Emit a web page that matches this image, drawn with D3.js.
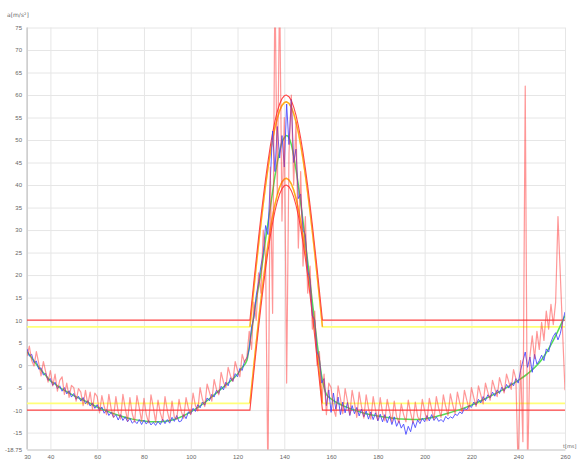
<!DOCTYPE html>
<html>
<head>
<meta charset="utf-8">
<script src="https://cdn.jsdelivr.net/npm/d3@7"></script>
<style>
  html, body { margin: 0; padding: 0; background: #fff; }
  svg { display: block; font-family: "DejaVu Sans", "Liberation Sans", sans-serif; }
</style>
</head>
<body>
<svg id="chart" width="577" height="459"></svg>
<script>
// ---- Shock record: acceleration a [m/s²] over time t [ms] ----

// sampling of the recorded signals
const tStart = 30, tEnd = 260, sampleStep = 1;
const sampleTimes = d3.range(tStart, tEnd + sampleStep / 2, sampleStep);

// raw accelerometer trace (one value per ms, 30..260)
const rawSignal = [
  2.0, 4.2, 1.0, -0.2, 3.0, 0.5, -2.4, 0.8, -1.5, -3.8,
  -1.2, -4.6, -2.0, -5.8, -3.4, -2.6, -6.5, -4.0, -7.2, -4.5,
  -5.0, -8.0, -5.2, -6.0, -9.0, -5.6, -8.8, -6.0, -9.8, -6.2,
  -7.0, -10.6, -6.8, -9.2, -11.0, -6.5, -9.8, -11.6, -7.0, -10.4,
  -12.0, -6.5, -9.6, -12.4, -7.2, -10.8, -12.6, -6.8, -9.5, -12.5,
  -7.4, -11.0, -12.8, -6.6, -9.4, -12.7, -7.8, -10.6, -12.4, -7.0,
  -10.2, -12.5, -8.0, -11.6, -12.0, -7.6, -10.4, -11.8, -7.2, -9.6,
  -11.0, -6.2, -9.0, -10.2, -5.0, -7.6, -9.2, -4.2, -6.0, -8.0,
  -3.2, -5.4, -6.6, -1.6, -3.8, -5.0, -0.5, -2.4, -3.6, 0.8,
  -1.2, -2.6, 2.4, 0.6, 1.8, 7.5, 3.5, 14.0, 10.0, 20.5,
  16.0, 30.0, 24.0, -26.0, 44.0, 11.5, 86.0, 38.0, 84.0, 32.0,
  55.0, -4.0, 47.0, 60.0, 40.0, 54.0, 26.0, 43.0, 22.0, 33.0,
  16.0, 22.0, 8.0, 12.0, 0.0, 3.0, -8.0, -2.0, -11.0, -4.0,
  -5.0, -9.6, -11.4, -4.6, -7.4, -10.8, -5.2, -8.0, -11.0, -5.6,
  -8.4, -11.6, -6.0, -9.2, -11.8, -6.6, -9.6, -12.0, -7.0, -10.0,
  -12.2, -7.2, -10.6, -12.4, -7.6, -10.2, -12.6, -8.0, -11.4, -12.8,
  -8.6, -11.0, -12.6, -7.8, -10.6, -12.8, -8.2, -11.4, -12.4, -7.6,
  -10.2, -12.4, -7.4, -9.8, -12.0, -7.0, -9.6, -11.6, -6.6, -9.2,
  -11.2, -6.4, -8.8, -10.8, -6.0, -8.4, -10.4, -5.6, -7.8, -9.8,
  -5.0, -7.2, -9.2, -4.6, -6.6, -8.6, -4.0, -6.0, -7.8, -3.4,
  -5.2, -7.0, -2.8, -4.6, -6.2, -2.0, -3.8, -5.4, -1.0, -3.0,
  -24.0, 1.0, -17.0, 62.0, -24.0, 2.0, 6.5, 1.5, 7.5, 3.5,
  9.5, 5.5, 12.0, 8.0, 13.5, 9.0, 14.0, 33.0, 20.0, 7.0, -5.6
];

// low-pass filtered trace (one value per ms, 30..260)
const filteredSignal = [
  3.6, 2.0, 2.4, 0.5, 0.9, -0.9, -0.6, -2.2, -1.8, -3.4,
  -3.0, -4.5, -3.8, -5.2, -4.6, -5.8, -5.0, -6.4, -5.7, -7.1,
  -6.3, -7.6, -6.9, -8.0, -7.2, -8.6, -7.9, -9.1, -8.4, -9.6,
  -8.8, -10.1, -9.3, -10.7, -9.9, -11.2, -10.5, -11.6, -11.0, -12.2,
  -11.0, -12.3, -11.5, -12.6, -11.8, -12.9, -12.4, -13.0, -12.1, -13.2,
  -12.2, -13.1, -12.3, -13.3, -12.7, -13.4, -12.5, -13.2, -12.0, -13.0,
  -12.1, -12.9, -11.6, -12.5, -11.2, -12.6, -12.4, -11.0, -11.9, -10.4,
  -10.9, -9.6, -10.3, -8.8, -9.5, -8.2, -8.9, -7.3, -7.9, -6.5,
  -7.1, -5.6, -6.3, -4.7, -5.5, -3.8, -4.6, -2.8, -3.6, -1.9,
  -2.6, -0.7, -1.2, 0.9, 1.5, 3.5, 8.5, 10.5, 15.5, 18.5,
  22, 25, 31, 29, 41, 52, 43, 53, 46, 51,
  44, 58, 49, 59, 45, 48, 37, 38, 30, 29,
  21, 19, 11, 10, 3, 1.5, -4, -3, -9, -5.5,
  -10.5, -6.2, -9.8, -7.1, -11.0, -8.2, -10.6, -8.3, -11.2, -9.0,
  -10.8, -9.4, -11.3, -9.8, -11.5, -10.2, -12.0, -10.4, -12.1, -10.6,
  -12.4, -10.9, -12.6, -11.0, -12.8, -11.3, -13.2, -11.5, -13.6, -12.4,
  -14.0, -13.1, -15.4, -13.6, -14.8, -12.5, -13.9, -12.2, -13.0, -11.8,
  -12.6, -11.2, -12.4, -11.0, -12.3, -11.5, -12.5, -12.1, -12.6, -11.4,
  -12.0, -11.5, -11.8, -10.9, -11.2, -10.4, -10.8, -9.6, -9.9, -9.0,
  -9.4, -8.2, -8.9, -7.6, -8.4, -7.0, -7.9, -6.6, -7.3, -6.0,
  -6.9, -5.5, -6.3, -4.9, -5.8, -4.3, -5.1, -3.9, -4.6, -3.0,
  -4.0, -1.2, 0.9, 2.9, -0.5, 1.8, -1.6, 2.4, 0.2, 1.0,
  2.2, 1.0, 3.6, 2.9, 5.1, 6.4, 7.2, 5.6, 7.0, 9.6, 11.8
];

// smoothed trend
const smoothTimes = [
  30, 32, 34, 36, 38, 40, 42, 44, 46, 48, 50, 55, 60, 65, 70, 75, 80, 85, 90, 95,
  100, 105, 110, 115, 120, 122, 124,
  125, 126, 127, 128, 129, 130, 131, 132, 133, 134, 135, 136, 137, 138, 139, 140, 141,
  142, 143, 144, 145, 146, 147, 148, 149, 150, 151, 152, 153, 154, 155, 156, 157, 158,
  160, 165, 170, 175, 180, 185, 190, 195, 200, 205, 210, 215, 220, 225, 230, 235, 240,
  245, 250, 255, 260
];
const smoothSignal = [
  3.0, 1.6, 0.2, -1.1, -2.3, -3.5, -4.2, -5.0, -5.6, -6.2, -6.8, -8.0, -9.3, -10.4, -11.3, -12.0, -12.4, -12.6, -12.4, -11.7,
  -10.4, -8.7, -6.6, -4.4, -2.0, -0.5, 1.0,
  4, 7.5, 11, 14.5, 17.5, 20.5, 24, 28, 31.5, 35, 38.5, 42, 45, 47.5, 49.5, 50.5, 51,
  50.5, 49, 46.5, 43.5, 40, 36, 32, 27.5, 23, 18.5, 14, 9.5, 5, 1, -2.5, -5, -6.5,
  -7.5, -9.0, -10.0, -10.8, -11.3, -11.7, -12.0, -12.1, -11.9, -11.4, -10.7, -9.9, -8.9, -7.7, -6.4, -5.0, -3.4,
  -1.5, 1.2, 5.5, 11.0
];

// nominal half-sine pulse (peak 50 m/s², 31 ms)
const pulseTimes = [
  30, 125.3, 126, 127, 128, 129, 130, 131, 132, 133, 134, 135, 136, 137, 138, 139, 140, 140.8,
  141, 142, 143, 144, 145, 146, 147, 148, 149, 150, 151, 152, 153, 154, 155, 156, 156.3, 260
];
const pulseNominal = [
  0, 0, 3.54, 8.57, 13.51, 18.31, 22.93, 27.30, 31.40, 35.18, 38.59, 41.61, 44.22, 46.34, 48.01, 49.18, 49.83, 50,
  49.96, 49.63, 48.76, 47.38, 45.54, 43.22, 40.45, 37.27, 33.70, 29.80, 25.59, 21.11, 16.41, 11.55, 6.57, 1.52, 0, 0
];
const toleranceBand = 10;   // ±0.2 A
const warningBand = 8.5;

// axes
const yTicks = [75, 70, 65, 60, 55, 50, 45, 40, 35, 30, 25, 20, 15, 10, 5, 0, -5, -10, -15, -18.75];
const xTicks = [30, 40, 60, 80, 100, 120, 140, 160, 180, 200, 220, 240, 260];

// ---- layout ----
const svg = d3.select("#chart");
const plotLeft = 27, plotRight = 565, plotTop = 27.5, plotBottom = 449.5;
const x = d3.scaleLinear().domain([30, 260]).range([plotLeft, plotRight]);
const y = d3.scaleLinear().domain([-18.75, 75]).range([plotBottom, plotTop]);

svg.append("defs").append("clipPath").attr("id", "plot-clip")
  .append("rect").attr("x", plotLeft).attr("y", plotTop)
  .attr("width", plotRight - plotLeft).attr("height", plotBottom - plotTop);

// horizontal grid + y labels
const yAxis = svg.append("g").attr("transform", `translate(${plotLeft},0)`)
  .call(d3.axisLeft(y).tickValues(yTicks).tickSize(-(plotRight - plotLeft)).tickPadding(5)
    .tickFormat(d => String(d)));
yAxis.selectAll(".tick line").attr("stroke", d => d === 0 ? "#d4d4d4" : "#e6e6e6");
yAxis.select(".domain").remove();
yAxis.selectAll("text").attr("fill", "#666").attr("font-size", 6);

// vertical grid + x labels
const xAxis = svg.append("g").attr("transform", `translate(0,${plotBottom})`)
  .call(d3.axisBottom(x).tickValues(xTicks).tickSizeInner(-(plotBottom - plotTop)).tickSizeOuter(0)
    .tickPadding(5).tickFormat(d => String(d)));
xAxis.selectAll(".tick line").attr("stroke", "#e6e6e6");
xAxis.select(".domain").attr("stroke", "#cccccc");
xAxis.selectAll("text").attr("fill", "#666").attr("font-size", 6);

// left axis line
svg.append("line").attr("x1", plotLeft).attr("x2", plotLeft).attr("y1", plotTop).attr("y2", plotBottom)
  .attr("stroke", "#b8b8b8");

// axis titles
svg.append("text").attr("x", 7).attr("y", 17).attr("font-size", 6).attr("fill", "#666")
  .text("a[m/s²]");
svg.append("text").attr("x", 563).attr("y", 448).attr("font-size", 5).attr("fill", "#666")
  .text("t[ms]");

// ---- tolerance envelopes ----
const plot = svg.append("g").attr("clip-path", "url(#plot-clip)");
const pulsePts = pulseTimes.map((t, i) => ({ t, v: pulseNominal[i] }));
const inPulse = pulsePts.filter(p => p.t >= 125.3 && p.t <= 156.3);
const lineTV = d3.line().x(p => x(p.t)).y(p => y(p.v));

[warningBand, -warningBand].forEach(off => {
  plot.append("path")
    .attr("d", lineTV(pulsePts.map(p => ({ t: p.t, v: p.v + off }))))
    .attr("fill", "none").attr("stroke", "#ffff78").attr("stroke-width", 1.6);
  plot.append("path")
    .attr("d", lineTV(inPulse.map(p => ({ t: p.t, v: p.v + off }))))
    .attr("fill", "none").attr("stroke", "#ffa524").attr("stroke-width", 1.4);
});
[toleranceBand, -toleranceBand].forEach(off => {
  plot.append("path")
    .attr("d", lineTV(pulsePts.map(p => ({ t: p.t, v: p.v + off }))))
    .attr("fill", "none").attr("stroke", "#ff4646").attr("stroke-width", 1.1);
});

// ---- recorded signals ----
const sampleLine = d3.line().x((d, i) => x(sampleTimes[i])).y(d => y(d));

plot.append("path").datum(smoothSignal)
  .attr("d", d3.line().curve(d3.curveMonotoneX)
    .x((d, i) => x(smoothTimes[i])).y(d => y(d)))
  .attr("fill", "none").attr("stroke", "#55dd55").attr("stroke-width", 1.5);

plot.append("path").datum(filteredSignal).attr("d", sampleLine)
  .attr("fill", "none").attr("stroke", "#4444ff").attr("stroke-width", 1)
  .attr("stroke-opacity", 0.85);

plot.append("path").datum(rawSignal).attr("d", sampleLine)
  .attr("fill", "none").attr("stroke", "#ff3030").attr("stroke-width", 1.2)
  .attr("stroke-opacity", 0.5).attr("stroke-linejoin", "round");
</script>
</body>
</html>
